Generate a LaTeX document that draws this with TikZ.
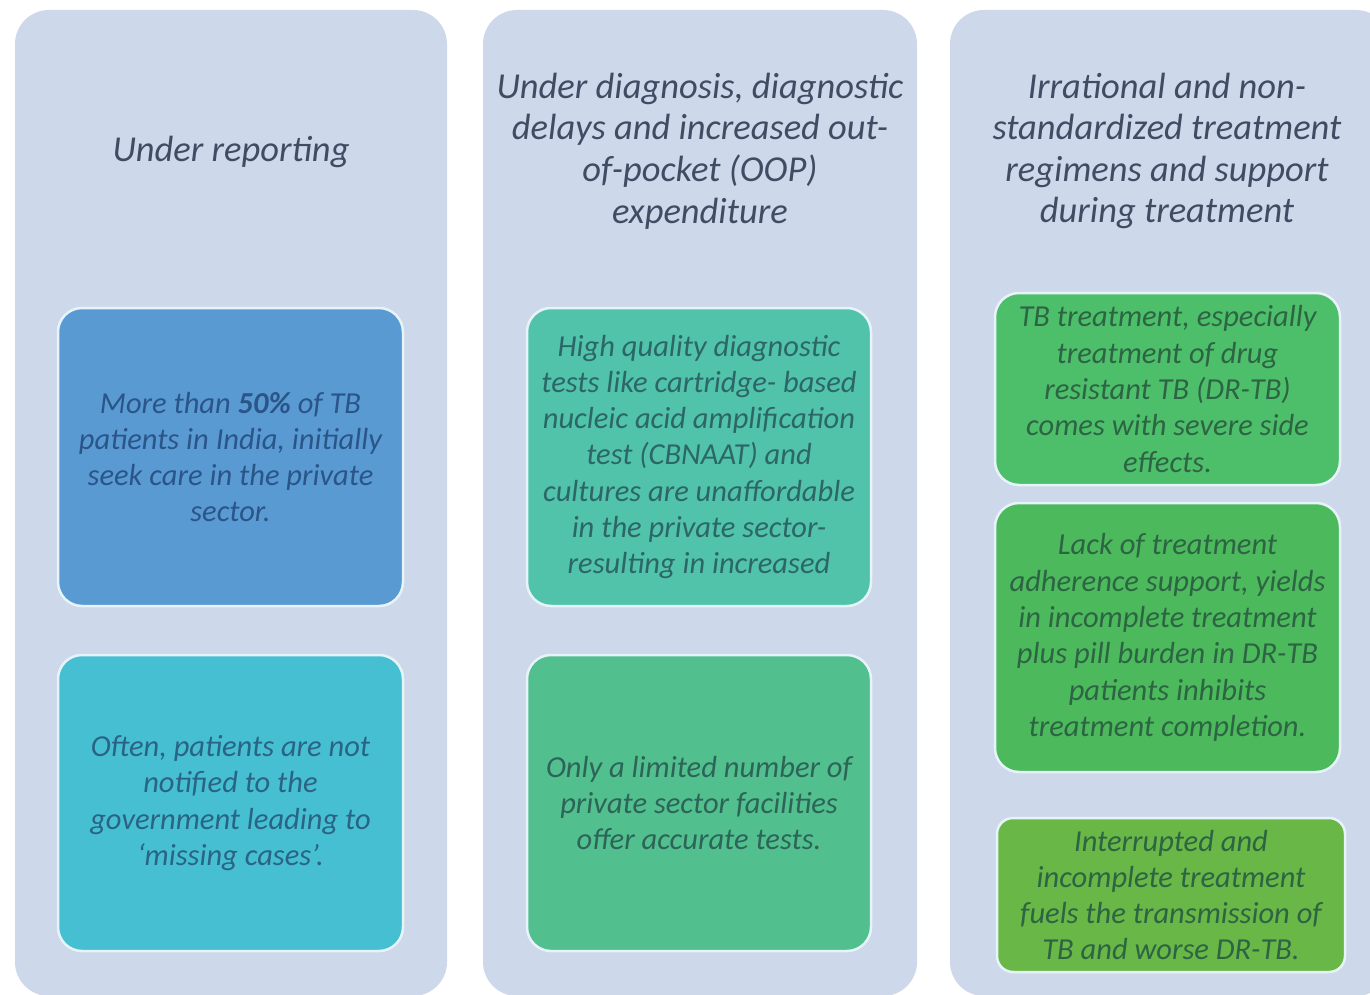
\documentclass[tikz,border=0pt]{standalone}
\usepackage{fontspec}
\setmainfont{Carlito}
\definecolor{panelc}{HTML}{CDD9EA}
\definecolor{edgec}{HTML}{E6F3F8}
\definecolor{titlec}{HTML}{404C63}
\definecolor{c11}{HTML}{5A9AD3}
\definecolor{c12}{HTML}{46BFD2}
\definecolor{c21}{HTML}{50C3AA}
\definecolor{c22}{HTML}{52BF8F}
\definecolor{c31}{HTML}{4DBF6A}
\definecolor{c32}{HTML}{4CB95C}
\definecolor{c33}{HTML}{69B746}
\definecolor{t11}{HTML}{2A5588}
\definecolor{t12}{HTML}{2A6484}
\definecolor{t21}{HTML}{2C6666}
\definecolor{t22}{HTML}{2C6458}
\definecolor{t3}{HTML}{2D6443}
\begin{document}
\begin{tikzpicture}[x=1pt,y=-1pt,
  panel/.style={fill=panelc, draw=none, rounded corners=34pt, inner sep=0pt},
  infobox/.style={draw=edgec, line width=2.5pt, rounded corners=24pt, inner sep=0pt, align=center,
    font=\fontsize{30.5}{36.3}\selectfont\itshape},
  title/.style={align=center, text=titlec, font=\fontsize{36.5}{41.6}\selectfont\itshape}]
\useasboundingbox (0,0) rectangle (1370,995);
\clip (0,0) rectangle (1370,995);
\fill[white] (0,0) rectangle (1370,995);
% panels
\node[panel, minimum width=432pt, minimum height=986pt] (p1) at (231,503) {};
\node[panel, minimum width=434pt, minimum height=986pt] (p2) at (700,503) {};
\node[panel, minimum width=440pt, minimum height=986pt] (p3) at (1170,503) {};
% titles
\node[title] (t1) at (231,152) {Under reporting};
\node[title] (t2) at (700,151) {Under diagnosis, diagnostic\\delays and increased out-\\of-pocket (OOP)\\expenditure};
\node[title] (t3) at (1167,151) {Irrational and non-\\standardized treatment\\regimens and support\\during treatment};
% column 1
\node[infobox, fill=c11, text=t11, minimum width=345pt, minimum height=298pt] (b11) at (230.5,457)
  {More than \textbf{50\%} of TB\\patients in India, initially\\seek care in the private\\sector.};
\node[infobox, fill=c12, text=t12, minimum width=345pt, minimum height=296pt] (b12) at (230.5,803)
  {Often, patients are not\\notified to the\\government leading to\\`missing cases'.};
% column 2
\node[infobox, fill=c21, text=t21, minimum width=344pt, minimum height=298pt] (b21) at (699,457)
  {High quality diagnostic\\tests like cartridge- based\\nucleic acid amplification\\test (CBNAAT) and\\cultures are unaffordable\\in the private sector-\\resulting in increased};
\node[infobox, fill=c22, text=t22, minimum width=344pt, minimum height=296pt] (b22) at (699,803)
  {Only a limited number of\\private sector facilities\\offer accurate tests.};
% column 3
\node[infobox, fill=c31, text=t3, minimum width=345pt, minimum height=192pt] (b31) at (1167.5,389)
  {TB treatment, especially\\treatment of drug\\resistant TB (DR-TB)\\comes with severe side\\effects.};
\node[infobox, fill=c32, text=t3, minimum width=345pt, minimum height=269pt] (b32) at (1167.5,637.5)
  {Lack of treatment\\adherence support, yields\\in incomplete treatment\\plus pill burden in DR-TB\\patients inhibits\\treatment completion.};
\node[infobox, fill=c33, text=t3, rounded corners=16pt, minimum width=348pt, minimum height=154pt] (b33) at (1171,895)
  {Interrupted and\\incomplete treatment\\fuels the transmission of\\TB and worse DR-TB.};
\end{tikzpicture}
\end{document}
